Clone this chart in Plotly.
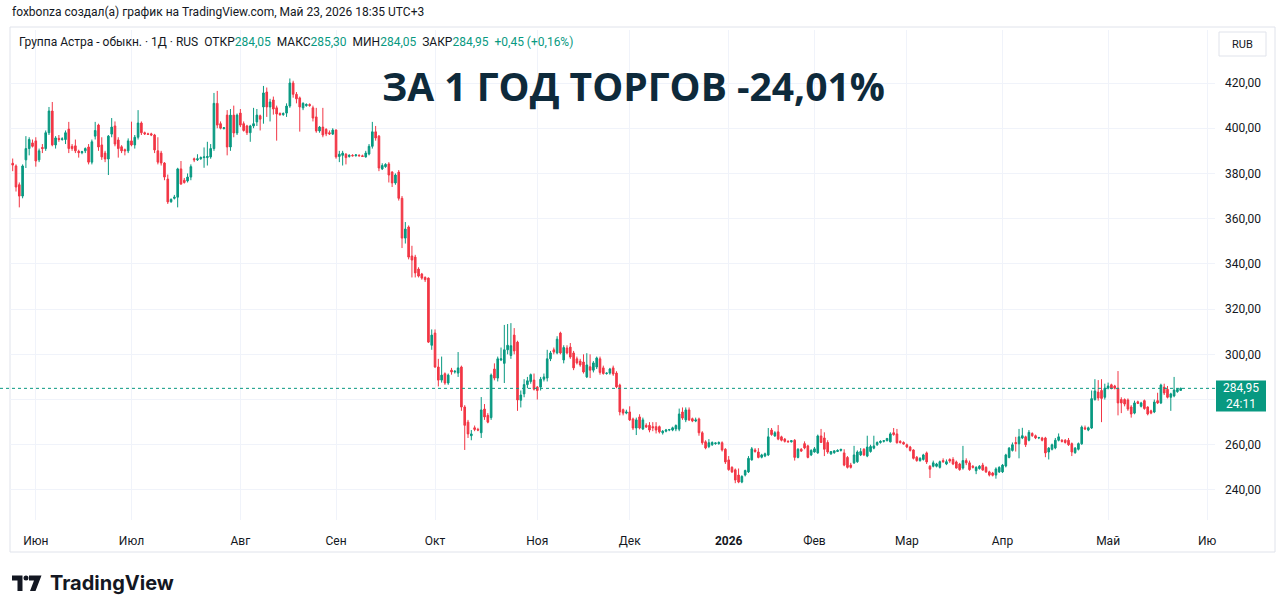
import plotly.graph_objects as go

# ---------------- data ----------------
open_ = [
384.5,383.3,375,370,386,391,393.5,394.4,386,391.5,
391,398,407.6,392.6,395.5,395,395,399.6,392,392.2,389.8,389.2,
390,391.7,385,396.5,401.4,392.6,389,386.4,397.4,401,
394.8,391.8,390.5,390,394.4,392.6,396,402.3,398,397.5,397.5,
397,390,389,384.6,377.5,367.5,369,369.5,382,377,
376.7,378.4,386.5,386,386.5,387,387,387.3,391,411,402,
399.8,405.8,391.7,405.8,397.9,406.7,402,401,398,401,
402.8,405.5,409.4,416,409.4,412.5,409,406.5,406,406.7,409.8,
420,415,413.4,409,410,410.5,409,405,398.8,400.5,399.5,
398,397.4,399.2,387.5,388,388.5,387.5,388,387.8,388,387.8,387.3,
388.6,392,398.4,396.5,382,383,384.2,380.6,375.8,380.6,
369,351.4,356.3,343.5,343,337.7,335.5,334,333.7,304,
309.4,294.4,288.6,291.4,287.3,293,292.2,291.7,294.4,276.7,270,
264,267.5,266.8,265.3,275.8,273,272,293.5,289.5,297.5,296,
302,299.5,308.5,305.4,279.7,282.5,286.6,288,288.6,285.5,
285.5,289,289.5,298,302,300.6,309.4,297.5,302.8,303.2,
300.6,298,297,296.6,290,294.5,293,294.4,298,294,291.5,
291.7,294,291.7,286.4,275.5,274,274.5,271.4,267.4,272.3,
267,268.6,268.6,268,268,268,265.3,266,266.5,266.5,267,
266.9,274.5,271,275.4,271.5,270.5,271.4,265.3,261.3,259.2,
260,260.5,260.5,260.9,258,253.3,250,248.9,246.6,243.5,
246.6,248,253.3,257.7,256.8,254.5,255,255.5,266.5,263.9,
265.7,263.5,262.5,261.5,261.3,262,254.4,258,260.5,259.5,255.5,
256.8,256.4,263.9,263,261,256,256.5,257,257.5,256.4,
254.4,251,252,252.5,255.5,258,255,257,258.5,260,
261,261.5,261.8,261.3,265.3,264.8,261.5,261,260,259,
257.7,254.5,253,253.5,256.4,250.5,250.5,250.5,250,253,
251.5,253.5,253.5,252.4,251.5,249.7,253,252,250.5,248.5,
249.5,251,250,248,247.5,246.6,248,248,250.6,254.4,
257.5,261,260.4,263,263.5,262,265,264,263,263,263,
256.8,258,258.6,262,262,262,262,260.5,256.5,258,
260.4,267.5,266.5,267.4,280,283.3,284,281,285,286.5,
286,285,280,280,279.8,276.7,274,279,277,279.5,
276.7,275,274.5,279.5,278.5,285.5,284.5,281,281.6,283.5,
284.05]

high = [
386.6,384,376,384,396.5,396,395,396,391,393,
399,409.4,411.6,396.5,397,396,399,402.8,393,395,390.5,390,
391.5,393,395,402.8,402,396,390,397,404.5,403,
396,392.5,391,395.5,402.9,397,408,403,398.5,398,398,
397.5,396,390,385,379.5,369,370.5,382.5,385.5,378,
380,384,387,388.5,387.5,391.5,394,393,415.6,416.5,403,
400.5,408,408.5,410,406.5,408.5,403,401.5,401.5,409,
408.5,406,418.7,418,413,414,410,407,407,411,422,
421,416,414,411.5,411,411,410,409,401,409,400,
399,400,399.5,390,390,389,388.5,388.5,388.5,388.5,388.3,390,
393,402.8,401,397,384.5,384.5,385,381,380,381.5,
370,358.5,357,348,344,338.5,336,334.5,334,311,
311,298,299,292,291.5,294,293,301,295,277.5,271,
266.5,268.5,267.5,281.1,278,274,291.5,296,299,303,313,
313.4,313.8,311.6,306,284,289,290,291.5,291.5,286,
290,291.5,302,301.5,303,308,310,304,304,305,
301.5,299,298,300,300.5,300,297,299,299,295,292,
294,295,292.5,287,276,275.5,277,272,272,273.5,
272,269.5,270,270,270,268.5,266.5,267,267,268,269,
276,276.5,276.5,276.5,272,272,272,266,262,262.5,
261.5,261,261.5,261.5,258.5,255,250.5,249.5,249.5,246.5,
249,255,259,258.5,258.5,256,256.5,267.4,267.4,266,
268.7,264,263,262,262,262.5,258.5,258.5,261.5,260,258,
259,264.5,267,265.5,262,257,257.5,258,258,258,
255,252,259.5,257.5,258.5,258.5,264,260,264,261.5,
262,262,263,265.5,267.4,267,262,261.5,260.5,259.5,
258,255,254.5,256,257,251,253,252,253,254,
253.5,254,254.5,253,252,259.5,254,253,251,250.5,
251,252,250.5,248.5,248,250,250.5,251.5,256,259,
261,263.5,267,267.5,264,266.5,265.5,264.5,263.5,263.5,263.5,
259,260.5,263,265,262.5,262.5,263,261,259,261,
268.5,268.5,268,284,289,288.6,289,287,287.5,287,
286.5,292.6,281,280.5,280.5,277.5,279.5,279.5,279,280,
277,275.5,280,283,287,287,286,283,290,285,
285.3]

low = [
381,372,365,369,382.4,388,391.5,383,385,389,
390,397,392,391,394,394.5,393,389,390,389,387,388.5,
389,384,384,395,390,386,385,379.3,396,392,
387,389,388,389,392,391,395,397,397,397,396.5,
389,384,383.5,377,366.5,367,368.5,365,375,375.5,
376,377,385,385.5,386,382.5,383.5,386.5,390,400,399.5,
399.5,388,390,396,397,400.5,398.5,397,394,400,
401,399,402,405,403,406,394.5,405.5,405.5,405,409,
413.5,411,398.5,408,409.5,409.5,403,398,398,396,396.5,
397,397,386.5,385,383.5,384,387,387.5,387.5,387.5,387.3,387,
388,391,394.5,381,381.5,382.5,376,374,375,368,
347,349,342,334,334,334,333,332,305,302,
294,285.8,287.5,286.5,286.5,291,291.5,290,275,257.7,263,
262,266,266,263,271,269.5,271,288.5,288,297,287.3,
300,298,300,275,276.5,281,285,287,284,280,
284,288,288,297,300,300,300,296,300,298,
293,295.5,294.5,291.5,289.5,289.5,292,293.5,291,291,291,
291,290.5,285,273,273,273.5,270.5,266.5,264.3,266.8,
266.5,267.5,265.5,266,265,265,264.5,265.5,266,266,266,
266,271,270,270.5,270,270,264,260,258,258.5,
259.5,260,260,257,251.5,248.5,247.5,243,243,243,
246,247.5,253,256.5,254,254,254.5,255,264,263.5,
262,261.5,261,261,261,253,254,256.8,258,254,255,
256.5,256,261,255,256,255.5,256,256.8,257,250.5,
249.5,249.5,251.5,252,255,255,254.5,256.5,258,259.5,
260.5,261,261.5,261,264,260.5,260.5,260,258.5,257,
253.5,252.5,252.5,253,251.5,245.3,250,250,249.5,252,
251,252,251,249.5,248.5,249,251,248.5,249.5,247,
249,248.5,247.5,246,246,245,247.5,247.5,250,254,
257,257,254,262.5,259,261.5,263.5,262.5,262.5,261.5,254.5,
253.5,257.5,258,261.5,261,260.5,259.5,255,256,257.5,
260,266.5,266,267,279.5,279.5,270,280,284.5,284.5,
284.5,273,274,277,275,272,273.5,278,276.5,275.5,
273,273.5,274,278,278,282,280.5,275,281,283,
284.05]

close = [
383.7,374,370,383.3,391,395,392,385.5,390,391,
398,407.6,392.6,395.7,395,395.3,398,391,391,390,389.2,389.6,
391,385,394,399,391.7,387.3,386.4,396.5,400.5,393,
391,390,390,394.4,392.6,396,402.3,398,397.5,397.3,397,
390.4,385,384.6,378.4,367.4,368.5,369.5,382,375.3,376,
378.4,383,386,386.5,387,387.3,387.5,391,411,401.4,400,
400.2,391.7,405.8,397.9,405.8,401.4,399,398,401,402,
405.8,404,415.6,409.4,411.6,408.5,406.3,406,406.5,409.8,420,
415,413,409.4,411,410.5,410,404.5,398.8,400.5,397,397.5,
397.5,399.2,387.3,388.5,389,387,388,387.8,388.2,387.8,387.5,389,
392,398.4,395.7,382.4,383.5,384,379.3,375.8,379.3,369,
351.4,355.4,343,341.7,336,334.6,333.7,333,305.4,308.5,
294.4,288.6,290.8,287.3,290.8,292.2,292.5,294,276.7,268.6,264.8,
264.8,266.8,266.5,275.4,272.3,270,290.8,289.5,298,298,302,
304,303.8,301.5,279.8,282,286.6,288.3,291,284.6,284,
289,290,298,300.6,301,306.7,300.6,303,300.6,298.8,
294,296.2,295.3,292.2,295.3,293,296.2,298.4,292,291.5,291.7,
293.5,291.3,285.6,274.5,274,274.5,271,267.4,271,267.4,
271,267.8,266.5,267.5,266.5,265.7,266,266.5,266.7,267.5,268.5,
273.6,271.8,275.4,271,270.5,271,265.3,260.9,258.6,260.9,
261,260.8,261,257.7,252.4,249,248,244.4,243.5,246,
248.6,254,258.2,257,254.4,255.5,256,263.5,264.5,265.3,
262.5,262,261.5,261.3,261.8,254.4,258,257.2,258.6,254.4,257.5,
258.2,263.9,261,258,256.8,257,257.3,257.5,258,251,
250,250,255.5,256.8,257,255.5,259,259.2,259.5,261,
261.5,261.8,262.8,264.8,264.5,260.9,261,260.3,259,257.5,
254,253,254,255.5,252.4,249.2,252,251.5,252.5,252.5,
252.5,252.8,251.5,249.7,249,253,252,249,250,250,
250.5,248.8,248,246.6,246.5,249.3,250,251,255.5,258.5,
260,260.5,263.5,264,260,265.5,264,263,263.2,262,256.4,
258.5,260,262,263.5,261.5,261,260,256.8,258.5,260.5,
267.8,267,267.5,280.4,283.8,280.7,280.5,285,286,285,
285,278.5,278.5,278,275.8,273.6,278.5,278.3,278.5,276,
273.6,274,278.9,278.5,286.4,282.9,281,282.5,284.2,284.5,
284.95]

month_labels = ["Июн", "Июл", "Авг", "Сен", "Окт", "Ноя", "Дек", "<b>2026</b>",
                "Фев", "Мар", "Апр", "Май", "Ию"]
month_bar_index = [7, 36, 69, 98, 128, 159, 187, 217, 243, 271, 300, 332, 362]

price_ticks = [240, 260, 280, 300, 320, 340, 360, 380, 400, 420]
# the 280 label is hidden behind the last-price tag in the reference
price_tick_labels = ["240,00", "260,00", "", "300,00", "320,00", "340,00",
                     "360,00", "380,00", "400,00", "420,00"]

last_price = 284.95
last_price_text = "284,95"
countdown_text = "24:11"
title_text = "ЗА 1 ГОД ТОРГОВ -24,01%"
header_text = "foxbonza создал(а) график на TradingView.com, Май 23, 2026 18:35 UTC+3"

# ---------------- styling ----------------
UP = "#089981"
DOWN = "#f23645"
TXT = "#131722"
GRID = "#f0f3fa"
FONT = "Roboto, 'Open Sans', sans-serif"

W, H = 1280, 613
L, R, T, B = 10, 65, 30, 93
PW = W - L - R
PH = H - T - B


def px2x(px):
    return (px - L) / PW


def py2y(py):
    return (H - B - py) / PH


n = min(len(open_), len(high), len(low), len(close))
bar_index = list(range(n))

fig = go.Figure(go.Candlestick(
    x=bar_index, open=open_[:n], high=high[:n], low=low[:n], close=close[:n],
    increasing=dict(line=dict(color=UP, width=1), fillcolor=UP),
    decreasing=dict(line=dict(color=DOWN, width=1), fillcolor=DOWN),
    whiskerwidth=0, hoverinfo="skip", showlegend=False,
))

first_px, last_px = 12.7, 1180.7
spacing = (last_px - first_px) / (n - 1)
x_lo = -(first_px - L) / spacing
x_hi = x_lo + PW / spacing
px_per_unit = 2.261
y_hi = 420 + (83 - T) / px_per_unit
y_lo = y_hi - PH / px_per_unit

fig.update_layout(
    width=W, height=H,
    margin=dict(l=L, r=R, t=T, b=B, pad=0),
    paper_bgcolor="white", plot_bgcolor="white",
    font=dict(family=FONT, size=12, color=TXT),
    showlegend=False,
    xaxis=dict(
        range=[x_lo, x_hi], tickvals=month_bar_index, ticktext=month_labels,
        showgrid=True, gridcolor=GRID, gridwidth=1, zeroline=False,
        rangeslider=dict(visible=False), ticks="", showline=False,
        tickfont=dict(size=12, color=TXT, family=FONT), ticklabelstandoff=12,
    ),
    yaxis=dict(
        side="right", range=[y_lo, y_hi], tickvals=price_ticks,
        ticktext=price_tick_labels, showgrid=True, gridcolor=GRID, gridwidth=1,
        zeroline=False, ticks="", showline=False,
        tickfont=dict(size=12, color=TXT, family=FONT), ticklabelstandoff=9,
    ),
)

shapes = []
# pane frame
shapes.append(dict(type="rect", xref="paper", yref="paper",
                   x0=px2x(10), x1=px2x(1275), y0=py2y(552), y1=py2y(27),
                   line=dict(color="#e0e3eb", width=1), fillcolor="rgba(0,0,0,0)", layer="below"))
# last price dotted line
shapes.append(dict(type="line", xref="paper", yref="y", x0=px2x(0), x1=1,
                   y0=last_price, y1=last_price,
                   line=dict(color=UP, width=1, dash="dot")))
# last price label box
shapes.append(dict(type="rect", xref="paper", yref="paper",
                   x0=px2x(1216), x1=px2x(1266), y0=py2y(411.5), y1=py2y(380.5),
                   line=dict(width=0), fillcolor=UP))
# RUB box
shapes.append(dict(type="rect", xref="paper", yref="paper",
                   x0=px2x(1219), x1=px2x(1266), y0=py2y(56), y1=py2y(32),
                   line=dict(color="#e0e3eb", width=1), fillcolor="white"))


# TradingView logo glyph
def path(points):
    return "M " + " L ".join(f"{px2x(a):.5f},{py2y(b):.5f}" for a, b in points) + " Z"


shapes.append(dict(type="path", xref="paper", yref="paper",
                   path=path([(12, 575.5), (22.5, 575.5), (22.5, 591), (17.5, 591),
                              (17.5, 580.5), (12, 580.5)]),
                   fillcolor=TXT, line=dict(width=0)))
shapes.append(dict(type="circle", xref="paper", yref="paper",
                   x0=px2x(23.5), x1=px2x(28.5), y0=py2y(580.5), y1=py2y(575.5),
                   fillcolor=TXT, line=dict(width=0)))
shapes.append(dict(type="path", xref="paper", yref="paper",
                   path=path([(29, 575.5), (41.5, 575.5), (35.5, 591), (30, 591),
                              (34, 580.5), (29, 580.5)]),
                   fillcolor=TXT, line=dict(width=0)))

fig.update_layout(shapes=shapes)

g = lambda s: f"<span style='color:{UP}'>{s}</span>"
nb = "\u00a0"
legend_text = (f"Группа Астра - обыкн. · 1Д · RUS{nb}{nb}ОТКР{g('284,05')}{nb}{nb}"
               f"МАКС{g('285,30')}{nb}{nb}МИН{g('284,05')}{nb}{nb}ЗАКР{g('284,95')}"
               f"{nb}{nb}{g('+0,45 (+0,16%)')}")

ann = [
    dict(text=header_text, x=px2x(10), y=py2y(12), xanchor="left", yanchor="middle",
         font=dict(size=12, color=TXT)),
    dict(text=legend_text, x=px2x(17), y=py2y(42), xanchor="left", yanchor="middle",
         font=dict(size=12, color=TXT)),
    dict(text=f"<b>{title_text}</b>", x=px2x(633), y=py2y(85), xanchor="center",
         yanchor="middle", font=dict(size=39, color="#0e2a3b", family="'Open Sans', sans-serif")),
    dict(text="RUB", x=px2x(1242.5), y=py2y(44), xanchor="center", yanchor="middle",
         font=dict(size=11, color=TXT)),
    dict(text=f"{last_price_text}<br>{countdown_text}", x=px2x(1241), y=py2y(396),
         xanchor="center", yanchor="middle", align="center",
         font=dict(size=12, color="white")),
    dict(text="<b>TradingView</b>", x=px2x(48), y=py2y(583), xanchor="left", yanchor="middle",
         font=dict(size=20, color=TXT, family="Inter, Roboto, sans-serif")),
]
for a in ann:
    a.update(xref="paper", yref="paper", showarrow=False)
fig.update_layout(annotations=ann)

fig.write_html("out.html")
